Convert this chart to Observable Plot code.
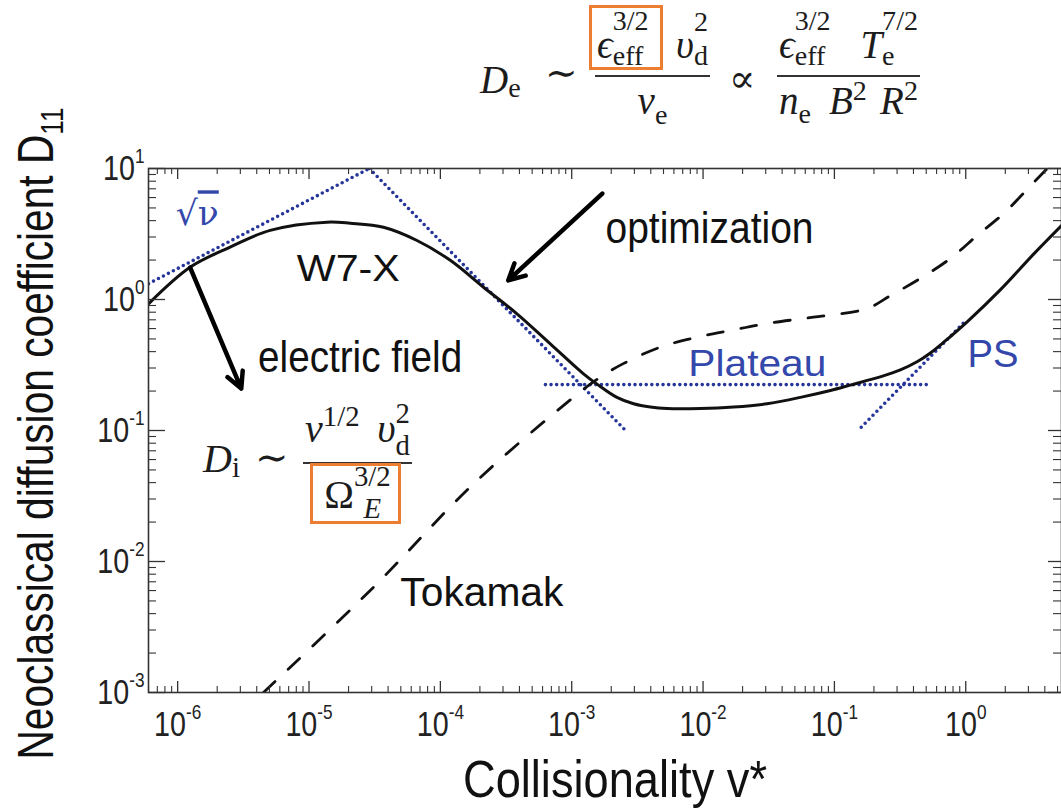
<!DOCTYPE html>
<html>
<head>
<meta charset="utf-8">
<script src="https://cdn.jsdelivr.net/npm/d3@7"></script>
<script src="https://cdn.jsdelivr.net/npm/@observablehq/plot@0.6"></script>
<style>
  html,body{margin:0;padding:0;background:#fff;}
  #wrap{position:relative;width:1061px;height:808px;overflow:hidden;background:#fff;}
  #wrap svg{position:absolute;left:0;top:0;}
  .m{position:absolute;font-family:"Liberation Serif","DejaVu Serif",serif;color:#1c1c1c;white-space:nowrap;}
  .i{font-style:italic;}
  .s{position:relative;font-size:0.72em;font-style:normal;}
  .ss{display:inline-grid;font-size:0.72em;font-style:normal;line-height:1;}
  .ss>span{grid-area:1/1;position:relative;}
  .frac{position:absolute;display:flex;flex-direction:column;font-family:"Liberation Serif","DejaVu Serif",serif;color:#1c1c1c;white-space:nowrap;}
  .num{border-bottom:2px solid #333;}
  .row{display:flex;align-items:baseline;justify-content:space-between;padding:0 2px;}
  .ctr{text-align:center;}
  .box{position:absolute;border:3px solid #ec7d31;box-sizing:border-box;}
  .op{font-family:"DejaVu Serif","Liberation Serif",serif;}
  #ytitle{position:absolute;writing-mode:vertical-rl;font-family:"Liberation Sans",Arial,sans-serif;font-size:50px;line-height:50px;color:#111;white-space:nowrap;transform-origin:50% 50%;}
  #ytitle .sb{font-size:32px;position:relative;}
</style>
</head>
<body>
<div id="wrap"></div>
<script>
// ---------------- data ----------------
// W7-X neoclassical D11 (solid)
const w7xNu = [6.0e-7, 1.25e-6, 2.51e-6, 5.06e-6, 1.37e-5, 2.06e-5, 3.69e-5, 6.64e-5, 1.19e-4, 2.13e-4, 3.83e-4, 6.87e-4, 1.23e-3, 1.56e-3, 2.21e-3, 2.96e-3, 3.97e-3, 5.32e-3, 9.53e-3, 1.71e-2, 3.07e-2, 5.51e-2, 9.33e-2, 0.132, 0.236, 0.318, 0.429, 0.538, 0.676, 1.03, 1.84, 3.27, 5.36];
const w7xD  = [0.927, 1.77, 2.51, 3.37, 3.89, 3.82, 3.56, 2.82, 1.99, 1.24, 0.778, 0.459, 0.271, 0.226, 0.179, 0.160, 0.151, 0.147, 0.147, 0.151, 0.160, 0.179, 0.202, 0.222, 0.261, 0.290, 0.336, 0.391, 0.470, 0.679, 1.19, 2.21, 3.67];
// Tokamak (dashed)
const tokNu = [4.50e-6, 3.10e-5, 1.79e-4, 1.03e-3, 1.65e-3, 2.47e-3, 4.73e-3, 8.99e-3, 1.61e-2, 3.07e-2, 6.92e-2, 0.177, 0.267, 0.452, 0.766, 1.22, 1.94, 3.40, 4.17];
const tokD  = [1.0e-3, 6.37e-3, 3.92e-2, 0.179, 0.255, 0.324, 0.433, 0.515, 0.579, 0.656, 0.733, 0.853, 1.07, 1.45, 2.06, 3.08, 4.53, 8.09, 10];
// asymptotes (blue dotted)
const sqrtNu = [6.0e-7, 2.88e-5];     const sqrtD = [1.32, 10];
const invNu  = [2.88e-5, 2.57e-3];    const invD  = [10, 0.1];
const platNu = [6.31e-4, 0.522];      const platD = [0.224, 0.224];
const psNu   = [0.160, 1.0];          const psD   = [0.106, 0.69];
// text labels
const labelText = ["√ν", "W7-X", "electric field", "optimization", "Plateau", "PS", "Tokamak"];
const labelNu   = [1.41e-6, 1.99e-5, 2.45e-5, 1.12e-2, 2.59e-2, 1.61, 2.07e-4];
const labelD    = [4.46, 1.69, 0.360, 3.48, 0.322, 0.380, 5.75e-3];
// arrows
const arrowFromNu = [1.245e-6, 1.71e-3];  const arrowFromD = [1.75, 6.44];
const arrowToNu   = [3.05e-6, 3.29e-4];   const arrowToD   = [0.209, 1.40];
// ticks
const xTickExp = [-6, -5, -4, -3, -2, -1, 0];
const yTickExp = [-3, -2, -1, 0, 1];
const xTitle = "Collisionality v*";
const yTitle = "Neoclassical diffusion coefficient D";
const yTitleSub = "11";

// ---------------- layout / style ----------------
const W = 1061, H = 808;
const mL = 148, mR = 0, mT = 168, mB = 116;
const fW = W - mL - mR, fH = H - mT - mB;
const blueDots = "#25359a", blueText = "#3447ab", ink = "#111";
const serif = '"DejaVu Serif","Liberation Serif",serif';
const sans = '"Liberation Sans",Arial,sans-serif';

const rows = (xs, ys) => xs.map((x, i) => ({nu: x, D: ys[i]}));
const xMajor = xTickExp.map(e => 10 ** e);
const yMajor = yTickExp.map(e => 10 ** e);
const xDom = [10 ** -6.222, 10 ** 0.729], yDom = [1e-3, 1e1];
const minors = (dom) => {
  const out = [];
  for (let e = Math.floor(Math.log10(dom[0])); e <= Math.ceil(Math.log10(dom[1])); e++)
    for (let k = 2; k <= 9; k++) { const v = k * 10 ** e; if (v > dom[0] && v < dom[1]) out.push(v); }
  return out;
};
const xMinor = minors(xDom), yMinor = minors(yDom);
const labels = labelText.map((t, i) => ({text: t, nu: labelNu[i], D: labelD[i]}));
const labelStyle = {
  "√ν": {size: 34, font: serif, color: blueText, len: 43},
  "W7-X": {size: 37, font: sans, color: ink, len: 103},
  "electric field": {size: 45, font: sans, color: ink, len: 204},
  "optimization": {size: 45, font: sans, color: ink, len: 208},
  "Plateau": {size: 37, font: sans, color: blueText, len: 138},
  "PS": {size: 39, font: sans, color: blueText, len: 51},
  "Tokamak": {size: 40, font: sans, color: ink, len: 163}
};
const arrows = arrowFromNu.map((n, i) => ({nu1: n, D1: arrowFromD[i], nu2: arrowToNu[i], D2: arrowToD[i]}));
const dotted = {x: "nu", y: "D", stroke: blueDots, strokeWidth: 3.6, strokeDasharray: "0,5.6", strokeLinecap: "round", clip: true};
const supFmt = d => `10^${Math.round(Math.log10(d))}`;

const chart = Plot.plot({
  width: W, height: H,
  marginLeft: mL, marginRight: mR, marginTop: mT, marginBottom: mB,
  style: {background: "transparent", overflow: "visible"},
  x: {type: "log", domain: xDom},
  y: {type: "log", domain: yDom},
  marks: [
    Plot.line(rows(sqrtNu, sqrtD), dotted),
    Plot.line(rows(invNu, invD), dotted),
    Plot.line(rows(platNu, platD), dotted),
    Plot.line(rows(psNu, psD), dotted),
    Plot.line(rows(tokNu, tokD), {x: "nu", y: "D", stroke: ink, strokeWidth: 2.8, strokeDasharray: "16,18", curve: "catmull-rom", clip: true}),
    Plot.line(rows(w7xNu, w7xD), {x: "nu", y: "D", stroke: ink, strokeWidth: 3, curve: "catmull-rom", clip: true}),
    // inward ticks on all four sides
    Plot.ruleX(xMajor, {insetTop: fH - 11, stroke: "#333", strokeWidth: 1.3}),
    Plot.ruleX(xMajor, {insetBottom: fH - 11, stroke: "#333", strokeWidth: 1.3}),
    Plot.ruleX(xMinor, {insetTop: fH - 6, stroke: "#333", strokeWidth: 1.1}),
    Plot.ruleX(xMinor, {insetBottom: fH - 6, stroke: "#333", strokeWidth: 1.1}),
    Plot.ruleY(yMajor, {insetRight: fW - 17, stroke: "#333", strokeWidth: 1.3}),
    Plot.ruleY(yMajor, {insetLeft: fW - 13, stroke: "#333", strokeWidth: 1.3}),
    Plot.ruleY(yMinor, {insetRight: fW - 8, stroke: "#333", strokeWidth: 1.1}),
    Plot.ruleY(yMinor, {insetLeft: fW - 8, stroke: "#333", strokeWidth: 1.1}),
    Plot.frame({stroke: "#333", strokeWidth: 1.6}),
    Plot.axisX(xMajor, {anchor: "bottom", tickSize: 0, tickPadding: 19, tickFormat: supFmt, fontSize: 35, fontFamily: sans, fill: "#222", label: null}),
    Plot.axisY(yMajor, {anchor: "left", tickSize: 0, tickPadding: 4, tickFormat: supFmt, fontSize: 35, fontFamily: sans, fill: "#222", label: null}),
    ...Object.entries(labelStyle).map(([t, s]) =>
      Plot.text(labels, {filter: d => d.text === t, x: "nu", y: "D", text: "text", fontSize: s.size, fontFamily: s.font, fill: s.color})),
    Plot.arrow(arrows, {x1: "nu1", y1: "D1", x2: "nu2", y2: "D2", stroke: "#000", strokeWidth: 4.5, headLength: 6, headAngle: 55}),
    Plot.text([xTitle], {frameAnchor: "bottom", lineAnchor: "bottom", dy: 104, dx: 10, fontSize: 52, fontFamily: sans, fill: ink})
  ]
});

const wrap = document.getElementById("wrap");
wrap.appendChild(chart);

// superscript exponents on tick labels, condensed horizontally like the reference face
const svg = d3.select(chart);
svg.selectAll('g[aria-label="x-axis tick label"] text, g[aria-label="y-axis tick label"] text').each(function () {
  const t = d3.select(this);
  const m = /^10\^(-?\d+)$/.exec(t.text());
  if (!m) return;
  t.text("10");
  t.append("tspan").attr("dy", -17).style("font-size", "21px").text(m[1]);
  const tr = t.attr("transform");
  if (tr) t.attr("transform", `${tr} scale(0.82,1)`);
  else {
    const x = +t.attr("x") || 0, y = +t.attr("y") || 0;
    t.attr("x", null).attr("y", null).attr("transform", `translate(${x},${y}) scale(0.82,1)`);
  }
});
// exact widths of the labels and the x title
const lens = Object.fromEntries(Object.entries(labelStyle).map(([t, s]) => [t, s.len]));
lens[xTitle] = 304;
svg.selectAll("text").each(function () {
  const t = d3.select(this), s = t.text();
  if (!lens[s]) return;
  if (s === "√ν") {
    t.text("√");
    t.append("tspan").style("text-decoration", "overline").text("ν");
  }
  t.attr("textLength", lens[s]).attr("lengthAdjust", "spacingAndGlyphs");
});

// y-axis title (vertical, reading bottom to top)
const yt = document.createElement("div");
yt.id = "ytitle";
yt.innerHTML = `${yTitle}<span class="sb" style="left:-16px">${yTitleSub}</span>`;
wrap.appendChild(yt);
{
  const r = yt.getBoundingClientRect();
  const k = 652 / r.height;
  yt.style.left = `${36 - r.width / 2}px`;
  yt.style.top = `${434 - r.height / 2}px`;
  yt.style.transform = `rotate(180deg) scaleY(${k})`;
}

// ---------------- formulas (HTML overlay) ----------------
const it = t => `<span class="i">${t}</span>`;
const sup = (t, r) => `<span class="s" style="top:${-r}px">${t}</span>`;
const sub = (t, r) => `<span class="s" style="top:${r}px">${t}</span>`;
const ss = (a, b, ra, rb) => `<span class="ss"><span style="top:${-ra}px">${a}</span><span style="top:${rb}px">${b}</span></span>`;
const grp = h => `<span>${h}</span>`;
function put(html, left, baseline, F) {
  const d = document.createElement("div");
  d.className = "m";
  d.style.cssText = `left:${left}px;top:${baseline - 0.8375 * F}px;font-size:${F}px;line-height:${F}px`;
  d.innerHTML = html;
  wrap.appendChild(d);
}
function frac(left, numBase, width, F, num, den, pb, pt, numRow, denRow) {
  const d = document.createElement("div");
  d.className = "frac";
  d.style.cssText = `left:${left}px;top:${numBase - 0.8375 * F}px;width:${width}px;font-size:${F}px;line-height:${F}px`;
  d.innerHTML = `<div class="num ${numRow ? "row" : "ctr"}" style="padding-bottom:${pb}px">${num}</div>` +
                `<div class="${denRow ? "row" : "ctr"}" style="padding-top:${pt}px">${den}</div>`;
  wrap.appendChild(d);
}
function box(l, t, w, h) {
  const d = document.createElement("div");
  d.className = "box";
  d.style.cssText = `left:${l}px;top:${t}px;width:${w}px;height:${h}px`;
  wrap.appendChild(d);
}
// D_e ~ eps^{3/2} v_d^2 / nu_e  ∝  eps^{3/2} T_e^{7/2} / (n_e B^2 R^2)
const F1 = 39;
put(`${it("D")}${sub("e", 4)}`, 480, 93, F1);
put(`<span class="op">∼</span>`, 545, 86, F1);
frac(595, 58, 115, F1,
  grp(`${it("ϵ")}${ss("3/2", "eff", 28, 7)}`) + grp(`${it("υ")}${ss("2", "d", 27, 7)}`),
  `${it("ν")}${sub("e", 10)}`, 11, 4, true, false);
put(`<span class="op">∝</span>`, 729, 92, F1);
frac(777, 58, 143, F1,
  grp(`${it("ϵ")}${ss("3/2", "eff", 28, 7)}`) + grp(`${it("T")}${ss("7/2", "e", 28, 7)}`),
  grp(`${it("n")}${sub("e", 9)}`) + `<span style="flex:0.35"></span>` + grp(`${it("B")}${sup("2", 14)}`) + `<span style="flex:0.2"></span>` + grp(`${it("R")}${sup("2", 14)}`), 11, 4, true, true);
box(589, 5, 74, 65);
// D_i ~ nu^{1/2} v_d^2 / Omega_E^{3/2}
const F2 = 40;
put(`${it("D")}${sub("i", 5)}`, 203, 472, F2);
put(`<span class="op">∼</span>`, 255, 470, F2);
frac(303, 442, 109, F2,
  grp(`${it("ν")}${sup("1/2", 16)}`) + grp(`${it("υ")}${ss("2", "d", 19, 13)}`),
  `Ω${ss("3/2", `<i>E</i>`, 22, 10)}`, 10.5, 11, true, false);
box(310, 463, 91, 61);
</script>
</body>
</html>
